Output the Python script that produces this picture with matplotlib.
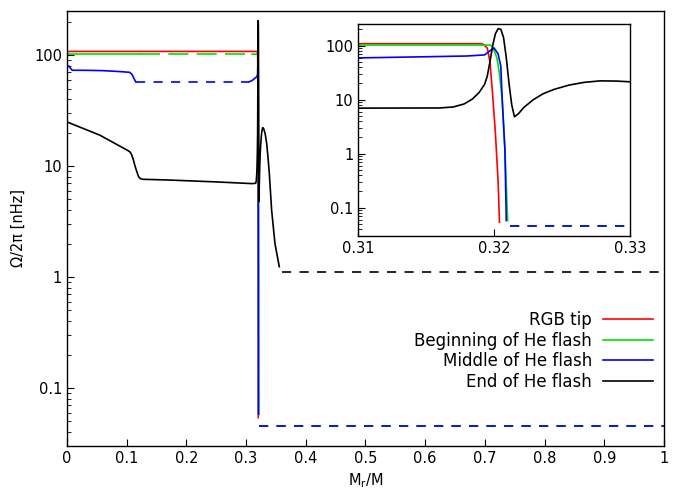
import matplotlib
matplotlib.use("Agg")
import matplotlib.pyplot as plt
from matplotlib.lines import Line2D
from matplotlib.ticker import LogLocator, NullFormatter, FixedLocator

# ---------------- data ----------------
labels = ["RGB tip", "Beginning of He flash", "Middle of He flash", "End of He flash"]
colors = ["#ff0000", "#00e000", "#0000ff", "#000000"]

# RGB tip
red_x = [0, 0.05, 0.1, 0.2, 0.3, 0.3190, 0.3192, 0.3195, 0.3197, 0.3199, 0.3201, 0.3203, 0.3204]
red_y = [108, 108, 108, 108, 108, 108, 106, 90, 50, 12, 2.4, 0.3, 0.054]
red_dx = [0.3212, 1.0]
red_dy = [0.045, 0.045]

# Beginning of He flash
green_x1 = [0, 0.123]
green_y1 = [102, 102]
green_dx1 = [0.123, 0.31]
green_dy1 = [102, 102]
green_x2 = [0.31, 0.3197, 0.3199, 0.3202, 0.3204, 0.3206, 0.3208, 0.3210]
green_y2 = [102, 102, 95, 60, 30, 10, 1.2, 0.058]
green_dx2 = [0.3212, 1.0]
green_dy2 = [0.045, 0.045]

# Middle of He flash
blue_x1 = [0, 0.003, 0.006, 0.009, 0.03, 0.06, 0.09, 0.105, 0.109, 0.112, 0.115]
blue_y1 = [78, 80, 76, 73, 73, 72.5, 71, 70, 67, 62, 57.5]
blue_dx1 = [0.115, 0.305]
blue_dy1 = [57.5, 57.5]
blue_x2 = [0.305, 0.31, 0.315, 0.318, 0.3193, 0.3197, 0.3200, 0.3203, 0.3205, 0.3206, 0.3208, 0.3209]
blue_y2 = [57.5, 59, 62, 64, 67, 80, 90, 70, 41, 10, 1.17, 0.058]
blue_dx2 = [0.3212, 1.0]
blue_dy2 = [0.045, 0.045]

# End of He flash
black_x = [0, 0.055, 0.1, 0.105, 0.108, 0.111, 0.114, 0.117, 0.120, 0.123, 0.127, 0.167,
           0.25, 0.31, 0.316, 0.317, 0.3178, 0.3184, 0.3189, 0.3193, 0.3195, 0.3197, 0.3199,
           0.3201, 0.3203, 0.3205, 0.3207, 0.3209, 0.3211, 0.3213, 0.3215, 0.3218, 0.3222,
           0.3229, 0.3236, 0.3244, 0.3255, 0.3266, 0.3278, 0.3290, 0.3299, 0.3320, 0.3345,
           0.3370, 0.3389, 0.3428, 0.3484, 0.3556]
black_y = [25, 19, 14, 13.5, 12.8, 11.5, 10, 8.9, 8.0, 7.7, 7.6, 7.5,
           7.2, 6.95, 7.0, 7.3, 8.3, 10.2, 13.5, 19, 27, 50, 100,
           165, 205, 200, 140, 60, 20, 8, 4.8, 5.5, 7.2,
           10, 12.8, 15.4, 18.5, 20.8, 22.2, 22, 21.4, 19.5, 16,
           11.5, 8.6, 4.0, 2.0, 1.24]
black_dx = [0.3595, 1.0]
black_dy = [1.1, 1.1]

# ---------------- plotting ----------------
plt.rcParams['font.family'] = ['DejaVu Sans']
fig = plt.figure(figsize=(6.82, 4.9), dpi=100)
ax = fig.add_axes([0.0982, 0.0898, 0.8754, 0.8878])
axin = fig.add_axes([0.525, 0.5184, 0.3988, 0.4326])

lw = 1.2
dash = (0, (5.5, 5))

def draw(a):
    a.plot(red_x, red_y, color=colors[0], lw=lw)
    a.plot(red_dx, red_dy, color=colors[0], lw=lw, ls=dash)
    a.plot(green_x1, green_y1, color=colors[1], lw=lw)
    a.plot(green_dx1, green_dy1, color=colors[1], lw=lw, ls=(0, (12, 5)))
    a.plot(green_x2, green_y2, color=colors[1], lw=lw)
    a.plot(green_dx2, green_dy2, color=colors[1], lw=lw, ls=dash)
    a.plot(blue_x1, blue_y1, color=colors[2], lw=lw)
    a.plot(blue_dx1, blue_dy1, color=colors[2], lw=lw, ls=dash)
    a.plot(blue_x2, blue_y2, color=colors[2], lw=lw)
    a.plot(blue_dx2, blue_dy2, color=colors[2], lw=lw, ls=dash)
    a.plot(black_x, black_y, color=colors[3], lw=lw)
    a.plot(black_dx, black_dy, color=colors[3], lw=lw, ls=dash)
    a.set_yscale('log')
    a.set_ylim(0.03, 250)
    a.yaxis.set_major_locator(FixedLocator([0.1, 1, 10, 100]))
    a.yaxis.set_major_formatter(matplotlib.ticker.FuncFormatter(lambda v, p: f"{v:g}"))
    a.yaxis.set_minor_locator(LogLocator(base=10, subs=range(2, 10)))
    a.yaxis.set_minor_formatter(NullFormatter())
    a.tick_params(which='both', direction='in', top=False, right=False, labelsize=10.5)
    a.tick_params(which='major', length=5, width=0.8)
    a.tick_params(which='minor', length=3, width=0.6)
    for s in a.spines.values():
        s.set_linewidth(1.0)

draw(ax)
ax.set_xlim(0, 1)
ax.set_xticks([0, 0.1, 0.2, 0.3, 0.4, 0.5, 0.6, 0.7, 0.8, 0.9, 1])
ax.set_xticklabels(["0", "0.1", "0.2", "0.3", "0.4", "0.5", "0.6", "0.7", "0.8", "0.9", "1"])
ax.set_xlabel(r'M$_\mathrm{r}$/M', fontsize=10.5, labelpad=4)
ax.set_ylabel('Ω/2π [nHz]', fontsize=10.5, labelpad=6)

draw(axin)
axin.set_xlim(0.31, 0.33)
axin.set_xticks([0.31, 0.32, 0.33])
axin.set_xticklabels(["0.31", "0.32", "0.33"])

handles = [Line2D([], [], color=c, lw=lw) for c in colors]
fig.legend(handles, labels, loc='upper right', bbox_to_anchor=(653 / 682, 1 - 311 / 490),
           frameon=False, markerfirst=False, fontsize=12, handlelength=3.0,
           handletextpad=0.65, labelspacing=0.16, borderpad=0, borderaxespad=0)

fig.savefig('out.png', dpi=100)
